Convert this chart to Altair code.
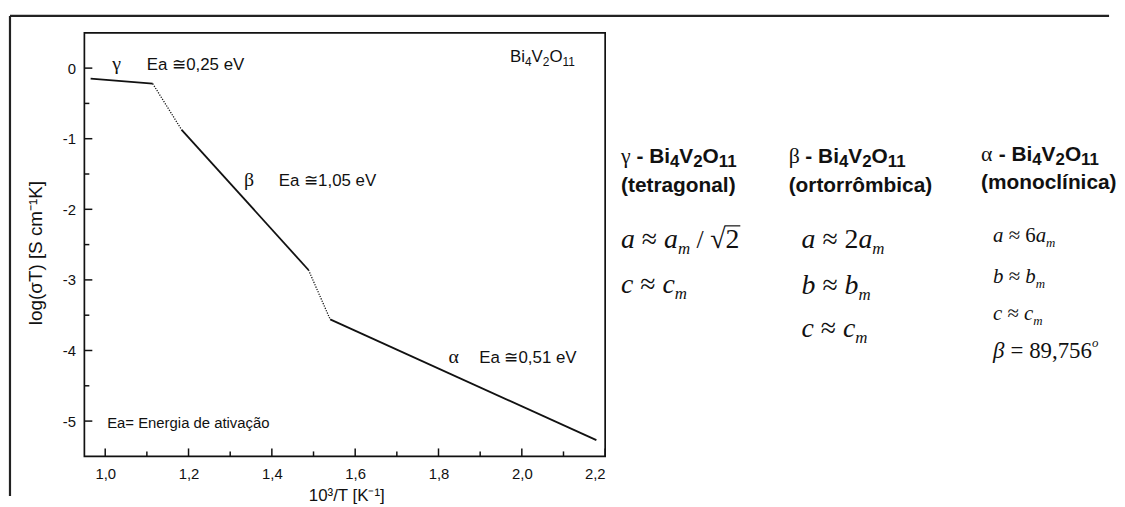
import altair as alt
import pandas as pd

# ---------------- data ----------------
x_vals = [0.965, 1.114, 1.183, 1.488, 1.540, 2.179]
y_vals = [-0.15, -0.22, -0.87, -2.86, -3.56, -5.27]
seg_style = ["solid", "dotted", "solid", "dotted", "solid"]

x_major = [1.0, 1.2, 1.4, 1.6, 1.8, 2.0, 2.2]
x_minor = [1.1, 1.3, 1.5, 1.7, 1.9, 2.1]
y_major = [0, -1, -2, -3, -4, -5]
y_minor = [-0.5, -1.5, -2.5, -3.5, -4.5]
x_domain = [0.95, 2.2]
y_domain = [-5.5, 0.5]

phase_greek = ["γ", "β", "α"]
phase_ea = ["Ea ≅0,25 eV", "Ea ≅1,05 eV", "Ea ≅0,51 eV"]
phase_names = ["(tetragonal)", "(ortorrômbica)", "(monoclínica)"]
x_title = "10³/T [K⁻¹]"
y_title = "log(σT) [S cm⁻¹K]"
legend_note = "Ea= Energia de ativação"

# ---------------- layout ----------------
W, H = 525, 427          # plot area
PX, PY = 84, 30          # page position of plot area
INK = "#111111"

FONTS = {
    "sans": ("Liberation Sans", "normal", "normal"),
    "sansb": ("Liberation Sans", "bold", "normal"),
    "serif": ("Liberation Serif", "normal", "normal"),
    "serifi": ("Liberation Serif", "normal", "italic"),
}
WID = {
    "sans": {" ": 278, "(": 333, ")": 333, ",": 278, "-": 333, "/": 278, "=": 584,
             "B": 667, "E": 667, "O": 778, "V": 667, "i": 222, "a": 556},
    "sansb": {" ": 278, "(": 333, ")": 333, "-": 333, "B": 722, "O": 778, "V": 667,
              "i": 278, "a": 556, "b": 611, "c": 556, "e": 556, "g": 611, "í": 278,
              "l": 278, "m": 889, "n": 611, "o": 611, "r": 389, "t": 333, "ô": 611},
    "serif": {" ": 250, "≈": 549, "=": 564, "/": 278, "√": 549, ",": 250, "°": 400,
              "α": 540, "β": 500, "γ": 440},
    "serifi": {" ": 250, "a": 500, "b": 500, "c": 444, "m": 722, "β": 520, "o": 500},
}


def tw(text, fk, size):
    return sum(WID[fk].get(ch, 500 if fk.startswith("serif") else 556) for ch in text) * size / 1000.0


rows = []
rules = []


def rich(x0, y0, pieces):
    """pieces: (text, fontkey, size, dy) placed left to right on one baseline.
    Leading / trailing blanks are turned into advances (SVG would drop them)."""
    x = x0
    for t, fk, s, dy in pieces:
        lead = len(t) - len(t.lstrip(" "))
        body = t.strip(" ")
        if body:
            rows.append({"px": x + tw(" " * lead, fk, s) - PX, "py": y0 + dy - PY, "t": body, "s": s, "fk": fk})
        x += tw(t, fk, s)
    return x


def formula_bi(x0, y0, greek, size=21, sub=17, sdy=4):
    return rich(x0, y0, [(greek, "serif", size + 1, 0), (" - Bi", "sansb", size, 0), ("4", "sansb", sub, sdy),
                         ("V", "sansb", size, 0), ("2", "sansb", sub, sdy), ("O", "sansb", size, 0),
                         ("11", "sansb", sub, sdy)])


# in-plot labels
rich(112, 67, [(phase_greek[0], "serif", 20, 0)])
rich(147, 67, [(phase_ea[0], "sans", 17, 0)])
rich(245, 184, [(phase_greek[1], "serif", 20, 0)])
rich(280, 184, [(phase_ea[1], "sans", 17, 0)])
rich(451, 363, [(phase_greek[2], "serif", 20, 0)])
rich(482, 363, [(phase_ea[2], "sans", 17, 0)])
rich(513, 59, [("Bi", "sans", 17, 0), ("4", "sans", 12, 4), ("V", "sans", 17, 0), ("2", "sans", 12, 4),
               ("O", "sans", 17, 0), ("11", "sans", 12, 4)])
rich(107, 428, [(legend_note, "sans", 15, 0)])

# right-hand columns
C1, C2, C3 = 625, 794, 988
formula_bi(C1, 161, phase_greek[0])
formula_bi(C2, 161, phase_greek[1])
formula_bi(C3, 159, phase_greek[2])
rich(C1, 190, [(phase_names[0], "sansb", 21, 0)])
rich(C2, 190, [(phase_names[1], "sansb", 21, 0)])
rich(C3, 187, [(phase_names[2], "sansb", 21, 0)])

F, FS = 28, 17
xs = rich(C1, 247, [("a", "serifi", F, 0), (" ≈ ", "serif", F, 0), ("a", "serifi", F, 0),
                     ("m", "serifi", FS, 6), (" / ", "serif", F - 2, 0), ("√", "serif", F, 0)])
xe = rich(xs, 247, [("2", "serif", F, 0)])
rules.append((xs - 1, xe + 1, 247 - 0.80 * F))
rich(C1, 292, [("c", "serifi", F, 0), (" ≈ ", "serif", F, 0), ("c", "serifi", F, 0), ("m", "serifi", FS, 6)])

D = C2 + 13
rich(D, 247, [("a", "serifi", F, 0), (" ≈ ", "serif", F, 0), ("2", "serif", F, 0), ("a", "serifi", F, 0),
              ("m", "serifi", FS, 6)])
rich(D, 293, [("b", "serifi", F, 0), (" ≈ ", "serif", F, 0), ("b", "serifi", F, 0), ("m", "serifi", FS, 6)])
rich(D, 337, [("c", "serifi", F, 0), (" ≈ ", "serif", F, 0), ("c", "serifi", F, 0), ("m", "serifi", FS, 6)])

E = C3 + 12
G = 21
rich(E, 241, [("a", "serifi", G, 0), (" ≈ ", "serif", G, 0), ("6", "serif", G, 0), ("a", "serifi", G, 0),
              ("m", "serifi", 13, 5)])
rich(E, 282, [("b", "serifi", G, 0), (" ≈ ", "serif", G, 0), ("b", "serifi", G, 0), ("m", "serifi", 13, 5)])
rich(E, 320, [("c", "serifi", G, 0), (" ≈ ", "serif", G, 0), ("c", "serifi", G, 0), ("m", "serifi", 13, 5)])
rich(E, 358, [("β", "serifi", 23, 0), (" = 89,756", "serif", 23, 0), ("o", "serifi", 13, -11)])

text_df = pd.DataFrame(rows)

# ---------------- segments of the conductivity curve ----------------
seg_rows = []
for i, st in enumerate(seg_style):
    seg_rows.append({"seg": i, "style": st, "x": x_vals[i], "y": y_vals[i]})
    seg_rows.append({"seg": i, "style": st, "x": x_vals[i + 1], "y": y_vals[i + 1]})
seg_df = pd.DataFrame(seg_rows)

x_scale = alt.Scale(domain=x_domain, nice=False, zero=False)
y_scale = alt.Scale(domain=y_domain, nice=False, zero=False)
x_axis = alt.Axis(values=x_major, labelExpr="replace(format(datum.value, '.1f'), '.', ',')", title=None,
                  ticks=False, tickSize=0, domain=False, grid=False, labelFontSize=15, labelPadding=10,
                  labelFont="Liberation Sans", labelColor=INK)
y_axis = alt.Axis(values=y_major, labelExpr="toString(datum.value)", title=None, ticks=False, tickSize=0,
                  domain=False, grid=False, labelFontSize=15, labelPadding=9, labelFont="Liberation Sans",
                  labelColor=INK)


def X(f):
    return alt.X(f + ":Q", scale=x_scale, axis=x_axis)


def Y(f):
    return alt.Y(f + ":Q", scale=y_scale, axis=y_axis)


solid = alt.Chart(seg_df).transform_filter(alt.datum.style == "solid").mark_line(
    color=INK, strokeWidth=1.8).encode(x=X("x"), y=Y("y"), detail="seg:N")
dotted = alt.Chart(seg_df).transform_filter(alt.datum.style == "dotted").mark_line(
    color=INK, strokeWidth=1.3, strokeDash=[1.2, 1.4]).encode(x=X("x"), y=Y("y"), detail="seg:N")

xt_major = alt.Chart(pd.DataFrame({"x": x_major})).mark_rule(color=INK, strokeWidth=1.5).encode(
    x=X("x"), y=alt.value(H), y2=alt.value(H - 8))
xt_minor = alt.Chart(pd.DataFrame({"x": x_minor})).mark_rule(color=INK, strokeWidth=1.5).encode(
    x=X("x"), y=alt.value(H), y2=alt.value(H - 5))
yt_major = alt.Chart(pd.DataFrame({"y": y_major})).mark_rule(color=INK, strokeWidth=1.5).encode(
    y=Y("y"), x=alt.value(0), x2=alt.value(8))
yt_minor = alt.Chart(pd.DataFrame({"y": y_minor})).mark_rule(color=INK, strokeWidth=1.5).encode(
    y=Y("y"), x=alt.value(0), x2=alt.value(5))

one = pd.DataFrame({"k": [0]})
frame_top = alt.Chart(one).mark_rule(color="#222", strokeWidth=2.2).encode(
    x=alt.value(9 - PX), x2=alt.value(1117 - PX), y=alt.value(13 - PY))
frame_left = alt.Chart(one).mark_rule(color="#222", strokeWidth=2.2).encode(
    x=alt.value(9 - PX), y=alt.value(13 - PY), y2=alt.value(497 - PY))

vinc = [alt.Chart(one).mark_rule(color=INK, strokeWidth=1.2).encode(
    x=alt.value(a - PX), x2=alt.value(b - PX), y=alt.value(c - PY)) for a, b, c in rules]

title_x = alt.Chart(one).mark_text(font="Liberation Sans", fontSize=17, color=INK, align="center",
                                   baseline="middle").encode(
    x=alt.value(W / 2 + 2), y=alt.value(497 - PY), text=alt.value(x_title))
title_y = alt.Chart(one).mark_text(font="Liberation Sans", fontSize=19, color=INK, align="center",
                                   baseline="middle", angle=270).encode(
    x=alt.value(35 - PX), y=alt.value(252 - PY), text=alt.value(y_title))

text_layers = []
for fk, (fam, wt, st) in FONTS.items():
    sub = text_df[text_df.fk == fk]
    if len(sub) == 0:
        continue
    text_layers.append(
        alt.Chart(sub).mark_text(align="left", baseline="alphabetic", font=fam, fontWeight=wt, fontStyle=st,
                                 color=INK).encode(
            x=alt.X("px:Q", scale=None), y=alt.Y("py:Q", scale=None), text="t:N",
            size=alt.Size("s:Q", scale=None)))

chart = alt.layer(
    frame_top, frame_left, xt_major, xt_minor, yt_major, yt_minor, solid, dotted, title_x, title_y,
    *vinc, *text_layers
).properties(
    width=W, height=H, padding={"left": 0, "top": 4, "right": 0, "bottom": 0}
).configure(background="white").configure_view(stroke=INK, strokeWidth=1.7)

chart.save("out.html", embed_options={"renderer": "svg", "actions": False})
